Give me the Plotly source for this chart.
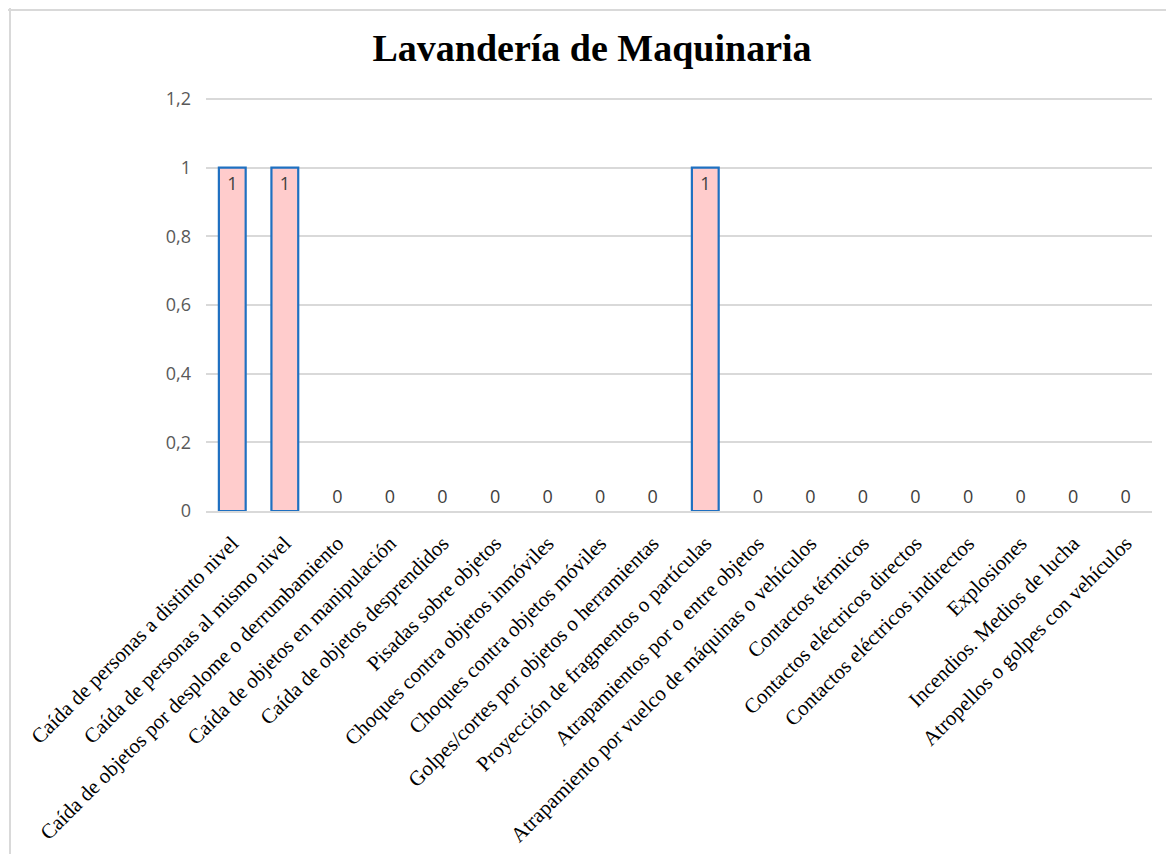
import plotly.graph_objects as go

categories = [
    "Caída de personas a distinto nivel",
    "Caída de personas al mismo nivel",
    "Caída de objetos por desplome o derrumbamiento",
    "Caída de objetos en manipulación",
    "Caída de objetos desprendidos",
    "Pisadas sobre objetos",
    "Choques contra objetos inmóviles",
    "Choques contra objetos móviles",
    "Golpes/cortes por objetos o herramientas",
    "Proyección de fragmentos o partículas",
    "Atrapamientos por o entre objetos",
    "Atrapamiento por vuelco de máquinas o vehículos",
    "Contactos térmicos",
    "Contactos eléctricos directos",
    "Contactos eléctricos indirectos",
    "Explosiones",
    "Incendios. Medios de lucha",
    "Atropellos o golpes con vehículos",
]
values = [1, 1, 0, 0, 0, 0, 0, 0, 0, 1, 0, 0, 0, 0, 0, 0, 0, 0]
y_ticks = [0, 0.2, 0.4, 0.6, 0.8, 1, 1.2]
y_tick_labels = ["0", "0,2", "0,4", "0,6", "0,8", "1", "1,2"]
title_text = "Lavandería de Maquinaria"

W, H = 1158, 846  # page body has 8px margin
ML, MR, MT, MB = 198, 14, 88, 343
PW, PH = W - ML - MR, H - MT - MB
px_per_unit = 412 / 1.2
y_top = 1.2 + 3 / px_per_unit

label_font = dict(family="Open Sans", size=18, color="#404040")

fig = go.Figure()
fig.add_trace(go.Bar(
    x=categories,
    y=values,
    text=[str(v) for v in values],
    textposition=["inside" if v > 0 else "outside" for v in values],
    insidetextanchor="end",
    textangle=0,
    cliponaxis=False,
    textfont=label_font,
    outsidetextfont=label_font,
    insidetextfont=label_font,
    marker=dict(
        color="#ffcccc",
        line=dict(color="#1f70c1", width=[2.2 if v > 0 else 0 for v in values]),
    ),
    hoverinfo="x+y",
))

fig.update_layout(
    width=W, height=H,
    margin=dict(l=ML, r=MR, t=MT, b=MB, autoexpand=False),
    paper_bgcolor="white",
    plot_bgcolor="white",
    bargap=0.49,
    showlegend=False,
    title=dict(
        text="<b>" + title_text + "</b>",
        x=(592 - 8) / W, xref="container", xanchor="center",
        y=1 - 40 / H, yref="container", yanchor="middle",
        font=dict(family="Liberation Serif", size=38, color="#000000"),
    ),
    xaxis=dict(
        tickangle=-45,
        tickfont=dict(family="Liberation Serif", size=21, color="#000000"),
        showgrid=False,
        showline=True, linecolor="#d9d9d9", linewidth=1.5,
        ticks="",
        ticklabelstandoff=10,
    ),
    yaxis=dict(
        range=[0, y_top],
        tickvals=y_ticks,
        ticktext=y_tick_labels,
        tickfont=dict(family="Open Sans", size=18, color="#595959"),
        showgrid=True, gridcolor="#d9d9d9", gridwidth=1.5,
        zeroline=False,
        showline=False,
        ticks="",
        ticklabelstandoff=14,
    ),
    shapes=[
        dict(type="line", xref="paper", yref="paper",
             x0=-ML / PW, x1=1.0 + MR / PW,
             y0=1 + (MT - 2) / PH, y1=1 + (MT - 2) / PH,
             line=dict(color="#d9d9d9", width=2)),
        dict(type="line", xref="paper", yref="paper",
             x0=-(ML - 2) / PW, x1=-(ML - 2) / PW,
             y0=1 + MT / PH, y1=-MB / PH,
             line=dict(color="#d9d9d9", width=2)),
    ],
)

fig.write_html("out.html")
